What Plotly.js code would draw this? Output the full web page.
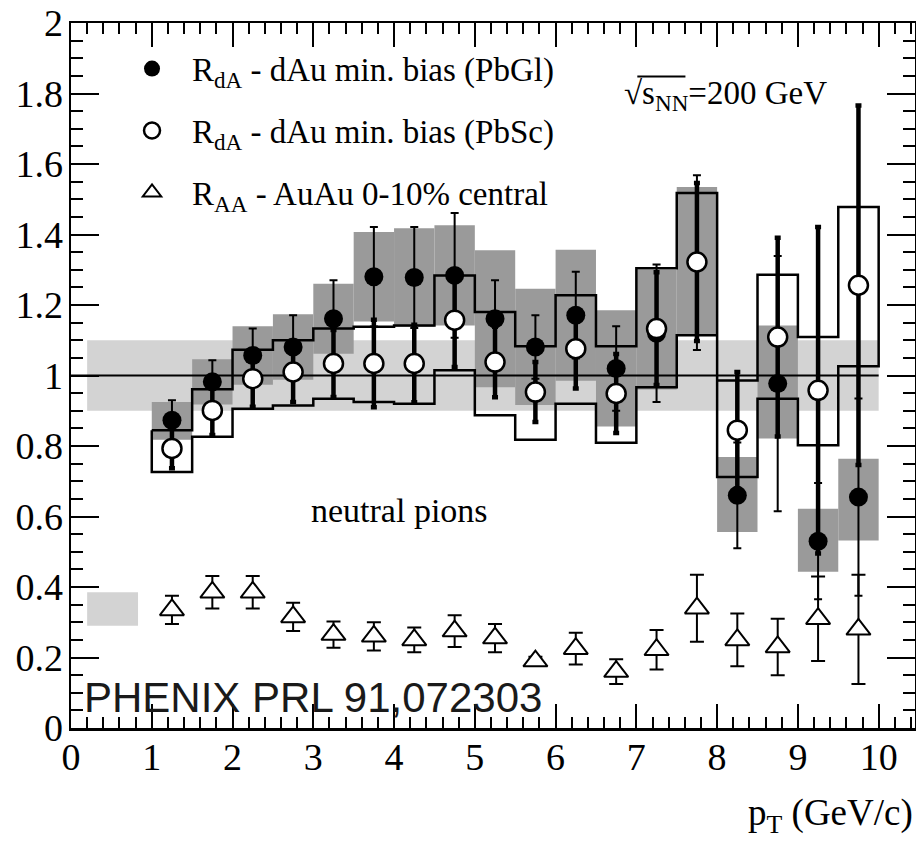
<!DOCTYPE html>
<html>
<head>
<meta charset="utf-8">
<script src="https://cdn.plot.ly/plotly-3.0.1.min.js"></script>
<style>html,body{margin:0;padding:0;background:#fff;}#plot{width:916px;height:841px;}</style>
</head>
<body>
<div id="plot"></div>
<script>
// ---- data ----
const pt = [1.25,1.75,2.25,2.75,3.25,3.75,4.25,4.75,5.25,5.75,6.25,6.75,7.25,7.75,8.25,8.75,9.25,9.75];

// R_dA PbGl (filled circles)
const pbgl      = [0.873,0.982,1.057,1.081,1.161,1.280,1.278,1.284,1.161,1.081,1.171,1.020,1.120,1.320,0.660,0.977,0.530,0.655];
const pbglErr   = [0.057,0.061,0.076,0.090,0.109,0.141,0.143,0.177,0.109,0.090,0.123,0.120,0.195,0.248,0.150,0.362,0.165,0.280];
const pbglSysLo = [0.818,0.918,0.974,0.988,1.062,1.153,1.138,1.142,0.967,0.916,0.985,0.855,0.960,1.114,0.556,0.821,0.443,0.532];
const pbglSysHi = [0.925,1.046,1.140,1.174,1.260,1.407,1.418,1.426,1.355,1.246,1.357,1.185,1.300,1.535,0.769,1.142,0.622,0.764];

// R_dA PbSc (open circles)
const pbsc      = [0.793,0.901,0.991,1.010,1.034,1.034,1.034,1.157,1.038,0.953,1.076,0.949,1.133,1.322,0.845,1.109,0.958,1.256];
const pbscErr   = [0.056,0.070,0.080,0.085,0.095,0.124,0.110,0.133,0.100,0.085,0.113,0.112,0.160,0.224,0.165,0.282,0.463,0.510];
const pbscSysLo = [0.726,0.826,0.906,0.915,0.934,0.925,0.920,1.015,0.887,0.818,0.920,0.809,0.967,1.114,0.712,0.934,0.802,1.026];
const pbscSysHi = [0.845,0.961,1.073,1.100,1.133,1.138,1.142,1.284,1.180,1.083,1.228,1.083,1.304,1.518,0.986,1.286,1.109,1.478];

// R_AA AuAu 0-10% central (open triangles)
const auau      = [0.335,0.385,0.385,0.315,0.265,0.260,0.250,0.275,0.255,0.190,0.225,0.160,0.222,0.340,0.250,0.230,0.310,0.280];
const auauErr   = [0.040,0.046,0.046,0.040,0.037,0.040,0.035,0.045,0.040,0.012,0.045,0.035,0.056,0.095,0.075,0.080,0.120,0.155];

// normalisation uncertainty bands
const dAuNormX  = [0.2, 10.0];
const dAuNormY  = [0.9, 1.1];
const auauNormX = [0.2, 0.83];
const auauNormY = [0.29, 0.385];

const names = ["R<sub>dA</sub> - dAu min. bias (PbGl)",
               "R<sub>dA</sub> - dAu min. bias (PbSc)",
               "R<sub>AA</sub> - AuAu 0-10% central"];
const xTickVals = [0,1,2,3,4,5,6,7,8,9,10];
const yTickVals = [0,0.2,0.4,0.6,0.8,1,1.2,1.4,1.6,1.8,2];
const yTickText = ["0","0.2","0.4","0.6","0.8","1","1.2","1.4","1.6","1.8","2"];

// ---- styling ----
const halfBin = 0.25;
const LIGHT = "#d3d3d3", DARK = "#9a9a9a";
const SERIF = "Liberation Serif";
const SANS = "Liberation Sans";

const shapes = [];
shapes.push({type:"rect", layer:"below", xref:"x", yref:"y", x0:dAuNormX[0], x1:dAuNormX[1], y0:dAuNormY[0], y1:dAuNormY[1], fillcolor:LIGHT, line:{width:0}});
shapes.push({type:"rect", layer:"below", xref:"x", yref:"y", x0:auauNormX[0], x1:auauNormX[1], y0:auauNormY[0], y1:auauNormY[1], fillcolor:LIGHT, line:{width:0}});
pt.forEach((x,i)=>{
  shapes.push({type:"rect", layer:"below", xref:"x", yref:"y", x0:x-halfBin, x1:x+halfBin, y0:pbglSysLo[i], y1:pbglSysHi[i], fillcolor:DARK, line:{width:0}});
});
shapes.push({type:"line", layer:"below", xref:"x", yref:"y", x0:0, x1:10, y0:1, y1:1, line:{color:"black", width:2}});
// overline of the square root sign
shapes.push({type:"line", xref:"paper", yref:"paper", x0:0.671, x1:0.728, y0:0.924, y1:0.924, line:{color:"black", width:2}});

// PbSc systematic envelope (step outline)
const envX = [], envY = [];
pt.forEach((x,i)=>{ envX.push(x-halfBin, x+halfBin); envY.push(pbscSysHi[i], pbscSysHi[i]); });
for (let i = pt.length-1; i >= 0; i--) { envX.push(pt[i]+halfBin, pt[i]-halfBin); envY.push(pbscSysLo[i], pbscSysLo[i]); }
envX.push(envX[0]); envY.push(envY[0]);

const traces = [
  {x:envX, y:envY, mode:"lines", line:{color:"black", width:2.5}, showlegend:false, hoverinfo:"skip"},
  {x:pt, y:pbgl, name:names[0], legendgroup:"a", mode:"markers",
   marker:{symbol:"circle", size:19, color:"black"},
   error_y:{type:"data", array:pbglErr, color:"black", thickness:2, width:4}},
  {x:pt, y:pbsc, name:names[1], legendgroup:"b", mode:"markers",
   marker:{symbol:"circle", size:19, color:"white", line:{color:"black", width:2.5}},
   error_y:{type:"data", array:pbscErr, color:"black", thickness:4.5, width:3}},
  {x:pt, y:auau, name:names[2], legendgroup:"c", mode:"markers",
   marker:{symbol:"triangle-up", size:21, color:"white", line:{color:"black", width:2}},
   error_y:{type:"data", array:auauErr, color:"black", thickness:2, width:7}}
];

const axCommon = {showline:true, linecolor:"black", linewidth:2.5, mirror:"ticks", ticks:"inside",
  tickcolor:"black", tickwidth:2, showgrid:false, zeroline:false,
  tickfont:{family:SERIF, size:38, color:"black"}};

const layout = {
  width:916, height:841,
  margin:{l:71, r:1, t:23, b:113, pad:0},
  paper_bgcolor:"white", plot_bgcolor:"white",
  font:{family:SERIF, color:"black"},
  xaxis: Object.assign({}, axCommon, {range:[0,10.45], tickmode:"array", tickvals:xTickVals,
    ticklen:24, ticklabelstandoff:-6,
    minor:{dtick:0.2, tick0:0, ticks:"inside", ticklen:11, tickwidth:2, tickcolor:"black", showgrid:false}}),
  yaxis: Object.assign({}, axCommon, {range:[0,2], tickmode:"array", tickvals:yTickVals, ticktext:yTickText,
    ticklen:28, ticklabelstandoff:-2,
    minor:{dtick:0.05, tick0:0, ticks:"inside", ticklen:12, tickwidth:2, tickcolor:"black", showgrid:false}}),
  showlegend:true,
  legend:{x:0.0486, y:0.975, xanchor:"left", yanchor:"top", bgcolor:"rgba(0,0,0,0)", borderwidth:0,
    itemwidth:70,
    font:{family:SERIF, size:33, color:"black"}, traceorder:"grouped", tracegroupgap:16},
  shapes:shapes,
  annotations:[
    {xref:"paper", yref:"paper", x:0.653, y:0.8975, xanchor:"left", yanchor:"middle", showarrow:false,
     text:"√s<sub>NN</sub>=200 GeV", font:{family:SERIF, size:33, color:"black"}},
    {xref:"x", yref:"y", x:4.07, y:0.617, xanchor:"center", yanchor:"middle", showarrow:false,
     text:"neutral pions", font:{family:SERIF, size:34, color:"black"}},
    {xref:"x", yref:"y", x:0.136, y:0.087, xanchor:"left", yanchor:"middle", showarrow:false,
     text:"PHENIX PRL 91,072303", font:{family:SANS, size:42, color:"#1a1a1a"}},
    {xref:"paper", yref:"paper", x:1, y:-0.124, xanchor:"right", yanchor:"middle", showarrow:false,
     text:"p<sub>T</sub> (GeV/c)", font:{family:SERIF, size:37, color:"black"}}
  ]
};

Plotly.newPlot("plot", traces, layout, {displayModeBar:false, staticPlot:true});
</script>
</body>
</html>
